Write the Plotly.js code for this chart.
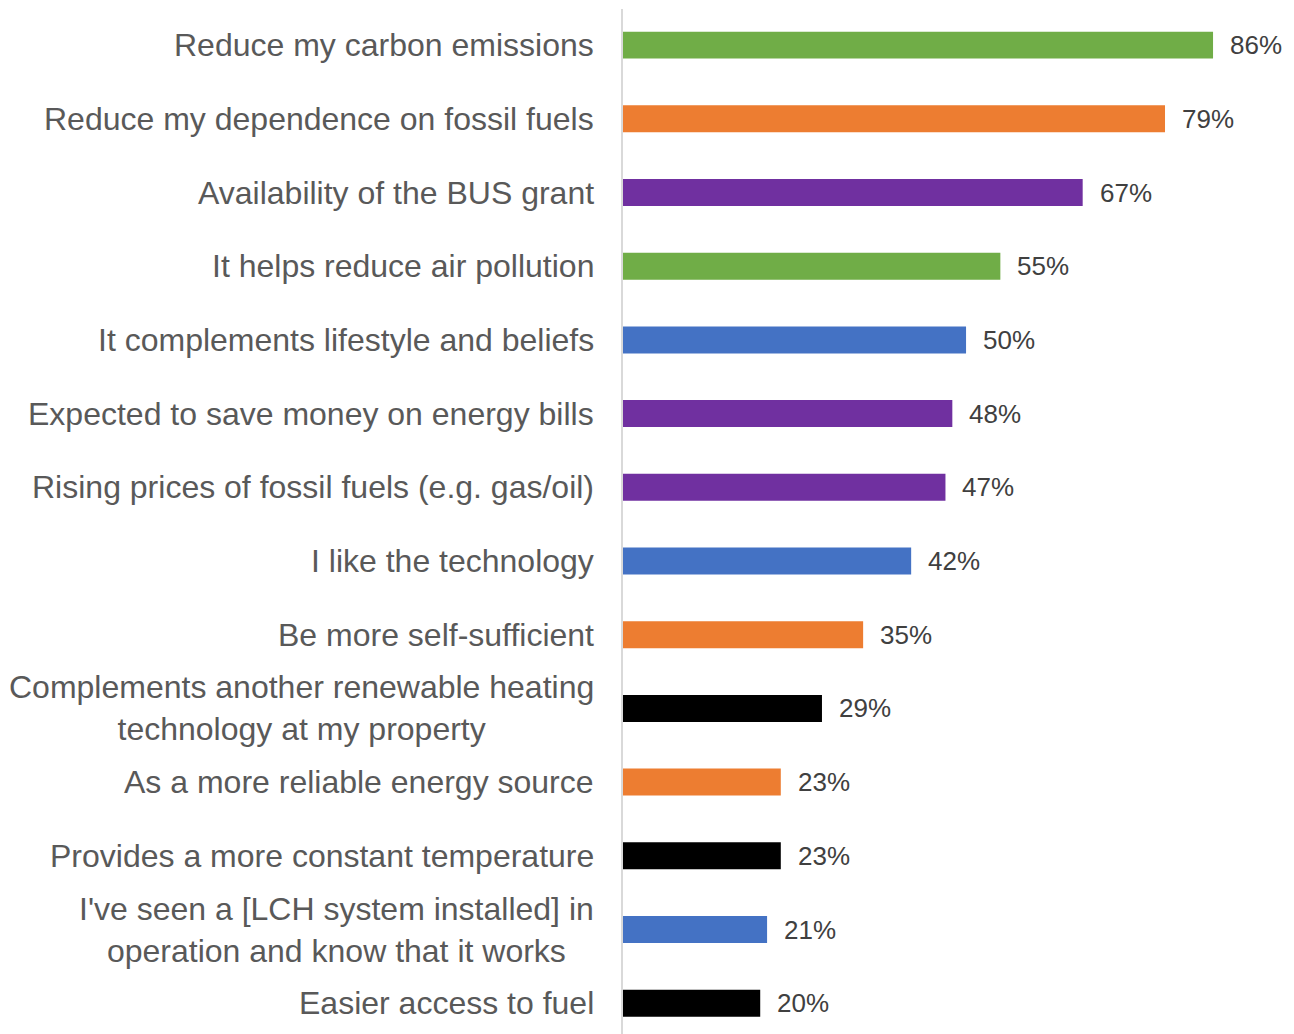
<!DOCTYPE html>
<html>
<head>
<meta charset="utf-8">
<script src="https://cdn.plot.ly/plotly-3.0.1.min.js"></script>
<style>
  html, body { margin: 0; padding: 0; background: #ffffff; }
  #chart { width: 1294px; height: 1034px; }
</style>
</head>
<body>
<div id="chart"></div>
<script>
// Reasons for installing a low-carbon heating system (share of respondents)
const reasons = [
  "Reduce my carbon emissions",
  "Reduce my dependence on fossil fuels",
  "Availability of the BUS grant",
  "It helps reduce air pollution",
  "It complements lifestyle and beliefs",
  "Expected to save money on energy bills",
  "Rising prices of fossil fuels (e.g. gas/oil)",
  "I like the technology",
  "Be more self-sufficient",
  "Complements another renewable heating<br>technology at my property",
  "As a more reliable energy source",
  "Provides a more constant temperature",
  "I've seen a [LCH system installed] in<br>operation and know that it works",
  "Easier access to fuel"
];

const shares = [86, 79, 67, 55, 50, 48, 47, 42, 35, 29, 23, 23, 21, 20];

const barColors = [
  "#70AD47", "#ED7D31", "#7030A0", "#70AD47", "#4472C4", "#7030A0", "#7030A0",
  "#4472C4", "#ED7D31", "#000000", "#ED7D31", "#000000", "#4472C4", "#000000"
];

const labelFont = { family: "Liberation Sans, Arial, sans-serif", size: 32, color: "#595959" };
const valueFont = { family: "Liberation Sans, Arial, sans-serif", size: 26, color: "#404040" };

const trace = {
  type: "bar",
  orientation: "h",
  x: shares,
  y: reasons,
  marker: { color: barColors, line: { width: 0 } },
  width: 0.366,
  hoverinfo: "x+y"
};

// category names sit left of the axis, centred line by line
const nameNotes = reasons.map(r => ({
  xref: "paper", x: 0, xanchor: "right", xshift: -27,
  yref: "y", y: r, yanchor: "middle",
  text: r, align: "center", showarrow: false, font: labelFont
}));

// percentage labels just past the end of each bar
const valueNotes = shares.map((v, i) => ({
  xref: "x", x: v, xanchor: "left", xshift: 15,
  yref: "y", y: reasons[i], yanchor: "middle",
  text: v + "%", showarrow: false, font: valueFont
}));

const layout = {
  width: 1294,
  height: 1034,
  margin: { l: 623, r: 0, t: 9, b: 0, pad: 0 },
  paper_bgcolor: "#ffffff",
  plot_bgcolor: "#ffffff",
  showlegend: false,
  xaxis: {
    range: [0, 97.8],
    visible: false,
    fixedrange: true
  },
  yaxis: {
    type: "category",
    range: [13.418, -0.49],
    showticklabels: false,
    ticks: "",
    showgrid: false,
    zeroline: false,
    showline: true,
    linecolor: "#D9D9D9",
    linewidth: 2,
    fixedrange: true
  },
  annotations: nameNotes.concat(valueNotes)
};

Plotly.newPlot("chart", [trace], layout, { displayModeBar: false, staticPlot: true });
</script>
</body>
</html>
